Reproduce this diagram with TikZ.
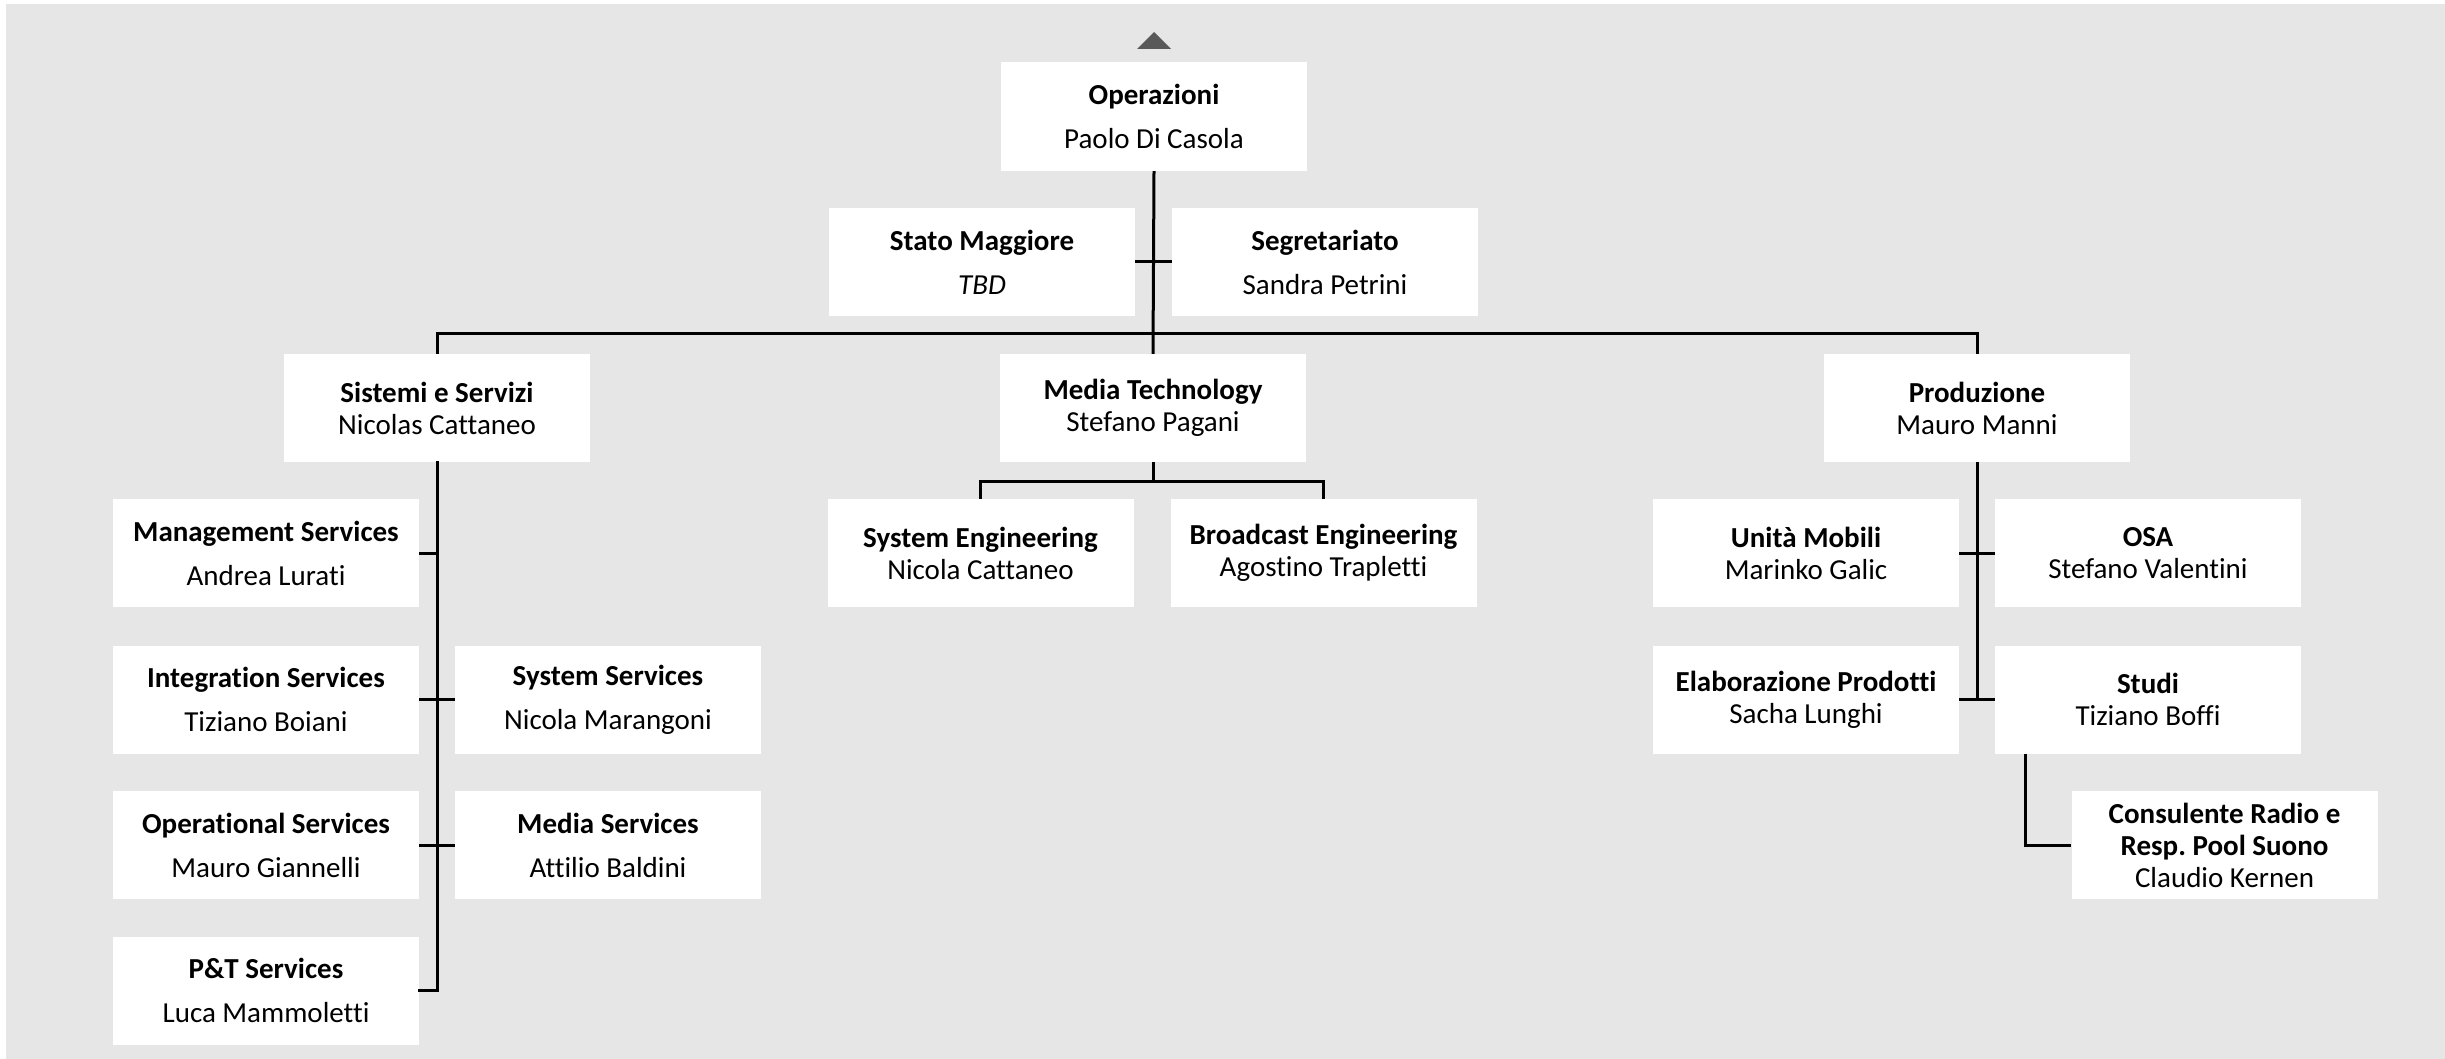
\documentclass[tikz,border=0pt]{standalone}
\usepackage{fontspec}
\setmainfont[Ligatures=NoCommon]{Carlito}
\usetikzlibrary{positioning}
\definecolor{bggray}{HTML}{E6E6E6}
\definecolor{tri}{HTML}{595959}
\frenchspacing
\begin{document}
\begin{tikzpicture}[x=1pt,y=-1pt,
  box/.style={fill=white,draw=none,minimum width=306pt,minimum height=108pt,inner sep=0pt,align=center,
    font=\fontsize{29}{32}\selectfont},
  link/.style={line width=3pt,draw=black}]
\useasboundingbox (0,0) rectangle (2445,1059);
\fill[white] (0,0) rectangle (2445,1059);
\fill[bggray] (6,4) rectangle (2445,1059);
% top triangle
\fill[tri] (1154,32) -- (1171,49) -- (1137,49) -- cycle;
% nodes
\node[box,minimum height=109pt] (op) at (1154,116.5) {\textbf{Operazioni}\\[12pt]Paolo Di Casola};
\node[box] (sm) at (982,262) {\textbf{Stato Maggiore}\\[12pt]\textit{TBD}};
\node[box] (seg) at (1325,262) {\textbf{Segretariato}\\[12pt]Sandra Petrini};
\node[box] (ss) at (437,408) {\textbf{Sistemi e Servizi}\\Nicolas Cattaneo};
\node[box] (mt) at (1153,408) {\textbf{Media Technology}\\Stefano Pagani};
\node[box] (prod) at (1977,408) {\textbf{Produzione}\\Mauro Manni};
\node[box] (se) at (980.5,553) {\textbf{System Engineering}\\Nicola Cattaneo};
\node[box] (be) at (1323.5,553) {\textbf{Broadcast Engineering}\\Agostino Trapletti};
\node[box] (mgmt) at (266,553) {\textbf{Management Services}\\[12pt]Andrea Lurati};
\node[box] (integ) at (266,699.5) {\textbf{Integration Services}\\[12pt]Tiziano Boiani};
\node[box] (syss) at (608,699.5) {\textbf{System Services}\\[12pt]Nicola Marangoni};
\node[box] (opers) at (266,845) {\textbf{Operational Services}\\[12pt]Mauro Giannelli};
\node[box] (meds) at (608,845) {\textbf{Media Services}\\[12pt]Attilio Baldini};
\node[box] (pt) at (266,990.5) {\textbf{P\&T Services}\\[12pt]Luca Mammoletti};
\node[box] (um) at (1806,553) {\textbf{Unità Mobili}\\Marinko Galic};
\node[box] (osa) at (2148,553) {\textbf{OSA}\\Stefano Valentini};
\node[box] (elab) at (1806,699.5) {\textbf{Elaborazione Prodotti}\\Sacha Lunghi};
\node[box] (studi) at (2148,699.5) {\textbf{Studi}\\Tiziano Boffi};
\node[box] (cons) at (2224.5,845) {\textbf{Consulente Radio e}\\\textbf{Resp. Pool Suono}\\Claudio Kernen};
% coordinates
\coordinate (busL) at (437,334);
\coordinate (busR) at (1977,334);
\coordinate (mtbus) at (1153,481);
\coordinate (ssend) at (437,990.5);
\coordinate (prodend) at (1977,699.5);
% connectors
\draw[link] (op.south) -- (mt.north);
\draw[link] (sm.east) -- (seg.west);
\draw[link] (ss.north) -- (busL) -- (busR) -- (prod.north);
\draw[link] (mt.south) -- (mtbus);
\draw[link] (se.north) |- (mtbus) -| (be.north);
\draw[link,line cap=rect] (ss.south) -- (ssend) -- (pt.east);
\draw[link] (mgmt.east) -- (mgmt.east -| ss.south);
\draw[link] (integ.east) -- (syss.west);
\draw[link] (opers.east) -- (meds.west);
\draw[link] (prod.south) -- (prodend);
\draw[link] (um.east) -- (osa.west);
\draw[link] (elab.east) -- (studi.west);
\draw[link] ([xshift=31pt]studi.south west) |- (cons.west);
\end{tikzpicture}
\end{document}
